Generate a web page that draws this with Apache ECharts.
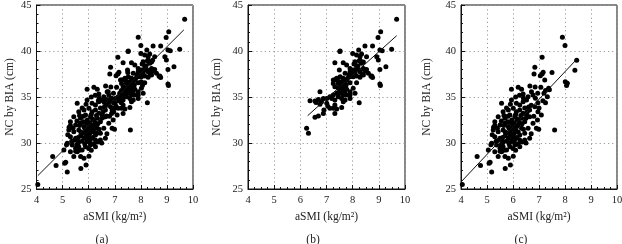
<!DOCTYPE html>
<html>
<head>
<meta charset="utf-8">
<script src="https://cdn.jsdelivr.net/npm/echarts@6/dist/echarts.min.js"></script>
<style>
  html, body { margin: 0; padding: 0; background: #fff; }
  #chart { width: 622px; height: 244px; }
</style>
</head>
<body>
<div id="chart"></div>
<script>
// panel (b): higher aSMI group
const groupB = [
    [9.68, 43.45], [9.07, 42.10], [8.97, 41.48], [7.52, 40.00], [8.00, 39.74], [8.23, 40.11],
    [8.47, 40.54], [8.76, 40.54], [9.04, 40.11], [9.13, 40.03], [9.49, 40.18], [8.15, 39.56],
    [8.28, 39.38], [8.34, 39.67], [8.53, 39.38], [8.25, 38.95], [8.09, 38.84], [8.41, 38.80],
    [7.32, 38.73], [7.64, 38.73], [8.34, 38.66], [8.92, 39.38], [8.98, 39.02], [7.49, 37.93],
    [7.77, 38.48], [7.90, 38.11], [8.02, 37.93], [8.15, 38.29], [8.22, 38.00], [8.41, 38.11],
    [8.53, 38.00], [7.71, 37.57], [7.90, 37.75], [8.09, 37.64], [8.28, 37.75], [8.60, 37.57],
    [9.04, 38.00], [9.27, 38.29], [7.26, 36.85], [7.39, 37.03], [7.52, 37.21], [7.64, 37.03],
    [7.77, 36.85], [7.90, 37.21], [8.02, 37.21], [8.15, 37.28], [8.28, 37.14], [8.41, 37.39],
    [8.73, 37.28], [7.26, 36.48], [7.45, 36.48], [7.58, 36.66], [7.71, 36.48], [7.90, 36.56],
    [8.15, 36.56], [9.04, 36.41], [9.06, 36.25], [7.32, 36.12], [7.45, 35.94], [7.58, 36.19],
    [7.64, 35.76], [7.77, 35.83], [7.90, 35.58], [8.02, 35.94], [8.09, 35.40], [7.52, 35.40],
    [7.64, 35.22], [7.77, 35.22], [7.39, 35.40], [7.13, 35.03], [7.26, 35.22], [6.37, 34.60],
    [6.56, 34.56], [6.69, 34.74], [6.75, 35.58], [6.81, 34.49], [6.88, 34.85], [7.01, 34.85],
    [7.20, 34.85], [7.32, 34.67], [7.45, 35.03], [7.58, 34.85], [7.71, 34.67], [7.90, 35.22],
    [7.01, 34.31], [7.32, 34.13], [7.64, 34.49], [7.90, 34.85], [8.25, 34.38], [7.13, 33.77],
    [7.26, 33.77], [7.39, 33.69], [7.58, 33.87], [6.56, 32.79], [6.69, 32.93], [6.88, 33.22],
    [7.32, 33.22], [6.24, 31.59], [6.31, 31.05], [8.70, 37.25], [8.76, 37.12], [7.51, 39.95],
    [7.55, 36.30], [7.60, 36.00], [7.65, 36.60], [7.70, 36.20], [7.45, 36.70], [7.50, 35.80],
    [7.35, 36.90], [7.80, 37.00], [7.85, 37.40], [8.00, 37.60], [8.10, 37.90], [8.20, 38.40],
    [6.60, 34.40], [6.75, 34.20], [6.90, 33.60], [7.05, 34.00], [7.60, 35.50], [7.70, 35.60],
    [7.75, 36.30], [8.05, 38.60], [8.30, 38.90], [8.45, 38.00], [8.50, 37.80], [8.35, 37.50]
];

// panel (c): lower aSMI group
const groupC = [
    [4.05, 25.50], [7.90, 41.50], [8.00, 40.60], [8.45, 39.00], [8.38, 37.90], [8.01, 36.67],
    [8.09, 36.49], [8.06, 36.25], [7.60, 31.42], [7.12, 39.31], [6.84, 38.23], [6.81, 37.50],
    [7.12, 37.50], [7.16, 37.70], [7.05, 37.30], [7.50, 37.65], [7.22, 36.85], [6.20, 36.05],
    [6.33, 35.85], [5.94, 35.83], [6.39, 35.33], [6.65, 36.20], [6.71, 35.58], [6.77, 35.22],
    [7.07, 36.05], [7.37, 35.94], [7.19, 35.40], [7.32, 35.04], [7.25, 34.38], [6.58, 35.04],
    [6.52, 34.68], [6.86, 34.86], [6.96, 34.38], [6.84, 33.95], [6.64, 33.59], [6.96, 33.41],
    [7.09, 33.04], [6.94, 32.50], [6.77, 32.14], [6.90, 31.60], [6.99, 31.49], [5.94, 34.68],
    [6.13, 34.31], [6.26, 34.13], [6.39, 34.49], [5.56, 34.31], [5.62, 33.41], [5.82, 33.59],
    [6.01, 33.77], [6.13, 33.41], [6.26, 33.59], [6.39, 33.23], [6.52, 33.04], [5.43, 32.86],
    [5.69, 32.68], [5.88, 33.04], [6.07, 32.86], [6.20, 32.50], [6.33, 32.68], [6.45, 32.32],
    [6.64, 32.86], [5.30, 32.32], [5.50, 31.96], [5.69, 32.14], [5.82, 31.78], [5.94, 32.14],
    [6.07, 31.78], [6.20, 31.96], [6.33, 31.60], [6.58, 31.60], [5.24, 31.41], [5.43, 31.23],
    [5.62, 31.41], [5.75, 31.05], [5.88, 31.23], [6.01, 30.87], [6.13, 31.23], [6.26, 30.87],
    [6.45, 31.05], [5.30, 30.69], [5.50, 30.51], [5.62, 30.15], [5.82, 30.51], [5.94, 30.15],
    [6.07, 30.40], [6.26, 30.33], [6.45, 30.33], [6.64, 30.51], [5.18, 29.97], [5.37, 29.79],
    [5.50, 29.42], [5.62, 29.60], [5.75, 29.24], [5.88, 29.60], [6.07, 29.79], [6.26, 29.60],
    [4.62, 28.52], [4.75, 27.55], [5.08, 27.79], [5.12, 27.90], [5.18, 26.85], [5.43, 28.52],
    [5.69, 28.52], [5.82, 28.34], [6.01, 28.55], [5.90, 27.61], [5.70, 27.22], [5.05, 29.24],
    [5.30, 29.06], [5.56, 29.06], [5.15, 29.80], [5.20, 30.90], [5.25, 31.70], [5.30, 31.90],
    [5.95, 31.50], [6.00, 31.90], [6.05, 32.20], [6.10, 31.40], [6.15, 32.60], [6.00, 30.70],
    [5.90, 30.90], [5.85, 31.60], [5.80, 32.30], [5.75, 30.20], [5.70, 30.80], [5.65, 31.90],
    [5.60, 30.00], [5.55, 29.80], [5.95, 32.50], [6.10, 33.10], [6.05, 30.10], [6.15, 30.60],
    [6.20, 31.20], [6.25, 32.20], [6.30, 33.00], [6.35, 32.10], [6.40, 31.50], [6.50, 32.70],
    [6.55, 33.40], [6.60, 33.90], [6.70, 34.10], [6.45, 33.80], [6.40, 34.90], [6.25, 35.20],
    [6.10, 35.00], [5.90, 34.20], [5.75, 33.80], [5.65, 33.00], [5.55, 32.40], [5.40, 31.60],
    [5.45, 30.30], [5.35, 30.20], [5.50, 29.10], [5.65, 29.20], [5.85, 29.90], [6.00, 29.40],
    [6.10, 29.20], [6.20, 29.90], [6.35, 30.10], [6.50, 30.00], [6.70, 31.00], [6.80, 32.90],
    [7.00, 33.80], [7.15, 34.60], [7.25, 35.70], [7.40, 35.80], [6.95, 35.40], [6.85, 36.10],
    [5.80, 32.90], [5.70, 31.20], [5.60, 30.60], [5.95, 30.40], [6.05, 31.10], [6.15, 31.80]
];

const groupA = groupB.concat(groupC);

const lineA = [[4.05, 26.45], [9.65, 42.3]];
const lineB = [[6.28, 32.97], [9.68, 41.66]];
const lineC = [[4.03, 25.85], [8.45, 39.1]];

const xTicks = {min: 4, max: 10, interval: 1};
const yTicks = {min: 25, max: 45, interval: 5};
const panelLetters = ['(a)', '(b)', '(c)'];

const FONT = '"Liberation Serif", "DejaVu Serif", serif';

const chart = echarts.init(document.getElementById('chart'), null, {renderer: 'canvas'});

const grids = [
    {left: 36.5, top: 5, width: 156.5, height: 184},
    {left: 248, top: 5, width: 157, height: 184},
    {left: 461, top: 5, width: 156, height: 184}
];
const yNameGaps = [21, 25, 28];
const letterX = [97, 308, 516];

function xAxis(i) {
    return {
        gridIndex: i,
        type: 'value',
        min: xTicks.min, max: xTicks.max, interval: xTicks.interval,
        name: 'aSMI (kg/m²)',
        nameLocation: 'middle',
        nameGap: 22,
        nameTextStyle: {fontFamily: FONT, fontSize: 11.5, color: '#222'},
        axisLine: {onZero: false, lineStyle: {color: '#111', width: 1}},
        axisTick: {inside: true, length: 4, lineStyle: {color: '#111'}},
        minorTick: {show: true, splitNumber: 4, length: 2, lineStyle: {color: '#111'}},
        axisLabel: {fontFamily: FONT, fontSize: 10.5, color: '#222', margin: 6},
        splitLine: {show: true, lineStyle: {color: '#9a9a9a', type: [1.2, 3], width: 1}}
    };
}

function yAxis(i) {
    return {
        gridIndex: i,
        type: 'value',
        min: yTicks.min, max: yTicks.max, interval: yTicks.interval,
        name: 'NC by BIA (cm)',
        nameLocation: 'middle',
        nameRotate: 90,
        nameGap: yNameGaps[i],
        nameTextStyle: {fontFamily: FONT, fontSize: 11.5, color: '#222'},
        axisLine: {onZero: false, lineStyle: {color: '#111', width: 1}},
        axisTick: {inside: true, length: 4, lineStyle: {color: '#111'}},
        minorTick: {show: true, splitNumber: 5, length: 2, lineStyle: {color: '#111'}},
        axisLabel: {fontFamily: FONT, fontSize: 10.5, color: '#222', margin: 5},
        splitLine: {show: true, lineStyle: {color: '#9a9a9a', type: [1.2, 3], width: 1}}
    };
}

const scatterData = [groupA, groupB, groupC];
const lineData = [lineA, lineB, lineC];

const series = [];
for (let i = 0; i < 3; i++) {
    series.push({
        type: 'scatter',
        xAxisIndex: i, yAxisIndex: i,
        data: scatterData[i],
        symbolSize: 5,
        itemStyle: {color: '#000', opacity: 1},
        silent: true
    });
    series.push({
        type: 'line',
        xAxisIndex: i, yAxisIndex: i,
        data: lineData[i],
        symbol: 'none',
        lineStyle: {color: '#111', width: 1},
        z: 3,
        silent: true
    });
}

const option = {
    animation: false,
    backgroundColor: '#fff',
    grid: grids.map(g => Object.assign({
        show: true,
        borderColor: '#111',
        borderWidth: 1,
        backgroundColor: 'transparent',
        containLabel: false,
        outerBoundsMode: 'none'
    }, g)),
    xAxis: [0, 1, 2].map(xAxis),
    yAxis: [0, 1, 2].map(yAxis),
    title: panelLetters.map((t, i) => ({
        text: t,
        left: letterX[i],
        top: 229,
        textAlign: 'center',
        textStyle: {fontFamily: FONT, fontSize: 11.5, fontWeight: 'normal', color: '#222'}
    })),
    series: series
};

option && chart.setOption(option);
</script>
</body>
</html>
